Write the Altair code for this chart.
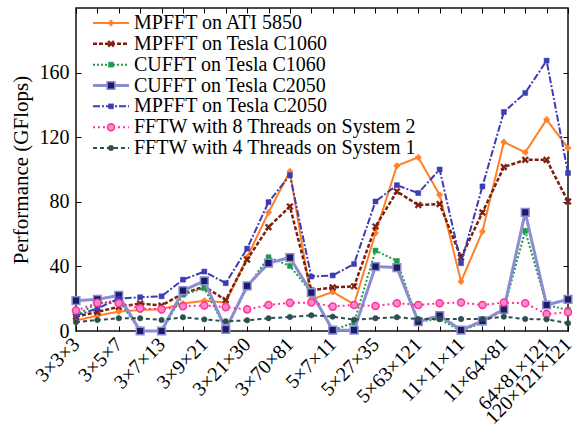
import altair as alt
import pandas as pd

FONT = "Liberation Serif"

SERIES = [
    "MPFFT on ATI 5850",
    "MPFFT on Tesla C1060",
    "CUFFT on Tesla C1060",
    "CUFFT on Tesla C2050",
    "MPFFT on Tesla C2050",
    "FFTW with 8 Threads on System 2",
    "FFTW with 4 Threads on System 1",
]

MPFFT_ATI5850 = [6.5, 9.5, 12, 13, 13.5, 17, 18.7, 17.6, 45.7, 73.4, 98.8, 19.4,
                 24.2, 16.5, 60.6, 102.3, 107.5, 84.3, 30.6, 61.6, 117, 110.6, 130.9, 113.3]
MPFFT_C1060 = [8.9, 11.8, 15, 17, 15.8, 23.2, 27.5, 19.2, 44.2, 64.3, 77.1, 25.2,
               27, 27.7, 64.7, 86.4, 78, 78.6, 45.5, 73.4, 101.5, 106, 106, 80.2]
CUFFT_C1060 = [10, 17, 19, 0, 0, 22.5, 26.5, 1.5, 27, 45.7, 40.3, 23.8,
               0.5, 5.2, 49.8, 43.4, 5.8, 7.4, 0, 5.2, 13.4, 62, 16.1, 13]
CUFFT_C2050 = [18.8, 19.6, 22, 0, 0, 25, 31, 1, 27.9, 42, 45.5, 23.8,
               0.5, 0.5, 39.9, 39.3, 5.8, 9.5, 0.6, 6.2, 13.4, 73.4, 16.1, 19.6]
MPFFT_C2050 = [9.5, 14, 20, 20.9, 21.5, 31.8, 36.8, 29.6, 51, 79.8, 96.5, 33.7,
               34.4, 41.5, 80.2, 90.3, 85.4, 100, 42, 89.5, 135.6, 147.4, 167.4, 97.8]
FFTW_8T = [12.6, 17.4, 17.2, 14, 13.4, 15.3, 15.8, 14.8, 13.4, 16.1, 17.4, 17.6,
           15.1, 16.1, 15.5, 17.2, 16.1, 17.2, 17.6, 16.1, 17.6, 17.2, 10.5, 11.6]
FFTW_4T = [5.5, 6.8, 7.9, 7.9, 6.8, 8.5, 7.2, 6, 6.6, 7.9, 8.7, 9.7,
           8.9, 7, 7.9, 8.5, 7.4, 7.4, 7.4, 7.4, 8.9, 7.4, 7.2, 4.8]

VALUES = [MPFFT_ATI5850, MPFFT_C1060, CUFFT_C1060, CUFFT_C2050, MPFFT_C2050, FFTW_8T, FFTW_4T]

X_INDEX = list(range(24))
X_LABELS = ["3×3×3", "3×5×7", "3×7×13", "3×9×21", "3×21×30", "3×70×81", "5×7×11",
            "5×27×35", "5×63×121", "11×11×11", "11×64×81", "64×81×121", "120×121×121"]
X_LABEL_POS = [0, 2, 4, 6, 8, 10, 12, 14, 16, 18, 20, 22, 23]
Y_TICKS = [0, 40, 80, 120, 160]

XPATH = "M-1,-0.6L-0.6,-1L0,-0.4L0.6,-1L1,-0.6L0.4,0L1,0.6L0.6,1L0,0.4L-0.6,1L-1,0.6L-0.4,0Z"
LINE_COLORS = ["#ff7f27", "#7b1f0f", "#1f9a4a", "#8c8cd0", "#3c3cb4", "#ff3399", "#2b5050"]
FILLS = ["#ff7f27", "#7b1f0f", "#1f9a4a", "#1b1b6b", "#3c3cb4", "#ff88cc", "#2b5050"]
DASHES = [[1, 0], [4, 2], [2, 2], [1, 0], [7, 2, 2, 2], [2, 3], [4, 3]]
WIDTHS = [2, 2.5, 2, 3, 2, 2, 2]
SHAPES = ["cross", XPATH, "square", "square", "square", "circle", "circle"]
SIZES = [30, 45, 25, 60, 25, 50, 30]
MSW = [0.5, 0.5, 0.5, 1.5, 0.5, 1.5, 0.5]

rows = []
for s, vals in zip(SERIES, VALUES):
    for i, v in zip(X_INDEX, vals):
        rows.append({"series": s, "idx": i, "value": v})
df = pd.DataFrame(rows)
leg_df = pd.DataFrame({"series": SERIES, "row": list(range(len(SERIES)))})

W, H = 492, 323
xs = alt.Scale(domain=[0, 23], nice=False, zero=False)
ys = alt.Scale(domain=[0, 200], nice=False, zero=False)
leg_ys = alt.Scale(domain=[0, 6], range=[15, 140], nice=False, zero=False)

label_expr = ("[" + ",".join("'%s'" % l for l in X_LABELS) + "][indexof(["
              + ",".join(str(p) for p in X_LABEL_POS) + "], datum.value)]")

ax_x_labels = alt.Axis(values=X_LABEL_POS, labelExpr=label_expr, labelAngle=-45,
                       labelAlign="right", labelBaseline="middle", labelFontSize=20,
                       labelFont=FONT, labelColor="black", ticks=False, domain=False,
                       grid=False, title=None, labelPadding=10,
                       labelOverlap=False, labelFlush=False, labelBound=False)
ax_y_labels = alt.Axis(values=Y_TICKS, labelFontSize=20, labelFont=FONT, labelColor="black",
                       ticks=False, domain=False, grid=False, title="Performance (GFlops)",
                       titleFont=FONT, titleFontSize=21, titleFontWeight="normal",
                       titleColor="black", labelPadding=7, titlePadding=8)
tick_common = dict(labels=False, ticks=True, tickSize=5, tickColor="black", tickWidth=1,
                   domain=False, grid=False, title=None)
ax_x_ticks_b = alt.Axis(orient="top", offset=-H, values=X_INDEX, **tick_common)
ax_x_ticks_t = alt.Axis(orient="bottom", offset=-H, values=X_INDEX, **tick_common)
ax_y_ticks_l = alt.Axis(orient="right", offset=-W, values=Y_TICKS[1:], **tick_common)
ax_y_ticks_r = alt.Axis(orient="left", offset=-W, values=Y_TICKS[1:], **tick_common)

axis_plan = {
    (0, "line"): (ax_x_labels, ax_y_labels),
    (0, "point"): (ax_x_ticks_b, ax_y_ticks_l),
    (1, "line"): (ax_x_ticks_t, ax_y_ticks_r),
}

layers = []
for k, s in enumerate(SERIES):
    base = alt.Chart(df).transform_filter(alt.datum.series == s)
    ax_l = axis_plan.get((k, "line"), (None, None))
    ax_p = axis_plan.get((k, "point"), (None, None))
    line = base.mark_line(color=LINE_COLORS[k], strokeDash=DASHES[k],
                          strokeWidth=WIDTHS[k]).encode(
        x=alt.X("idx:Q", scale=xs, axis=ax_l[0]),
        y=alt.Y("value:Q", scale=ys, axis=ax_l[1]),
    )
    pts = base.mark_point(shape=SHAPES[k], size=SIZES[k], filled=True, fill=FILLS[k],
                          stroke=LINE_COLORS[k], strokeWidth=MSW[k], opacity=1).encode(
        x=alt.X("idx:Q", scale=xs, axis=ax_p[0]),
        y=alt.Y("value:Q", scale=ys, axis=ax_p[1]),
    )
    layers += [line, pts]

# legend (positions are relative to the plot area)
for k, s in enumerate(SERIES):
    lb = alt.Chart(leg_df).transform_filter(alt.datum.series == s)
    rule = lb.mark_rule(color=LINE_COLORS[k], strokeDash=DASHES[k],
                        strokeWidth=WIDTHS[k]).encode(
        x=alt.value(17), x2=alt.value(53),
        y=alt.Y("row:Q", scale=leg_ys, axis=None),
    )
    mk = lb.mark_point(shape=SHAPES[k], size=SIZES[k], filled=True, fill=FILLS[k],
                       stroke=LINE_COLORS[k], strokeWidth=MSW[k], opacity=1).encode(
        x=alt.value(35),
        y=alt.Y("row:Q", scale=leg_ys, axis=None),
    )
    layers += [rule, mk]

txt = alt.Chart(leg_df).mark_text(align="left", baseline="middle", font=FONT,
                                  fontSize=20, color="black").encode(
    x=alt.value(58),
    y=alt.Y("row:Q", scale=leg_ys, axis=None),
    text="series:N",
)
layers.append(txt)

chart = alt.layer(*layers).resolve_scale(y="independent").resolve_axis(
    x="independent", y="independent"
).properties(
    width=W, height=H,
    autosize=alt.AutoSizeParams(type="none"),
    padding={"left": 76, "top": 8, "right": 14, "bottom": 101},
    background="white",
).configure_view(stroke="#111", strokeWidth=1.5)

chart.save("out.html", embed_options={"renderer": "svg", "actions": False})
